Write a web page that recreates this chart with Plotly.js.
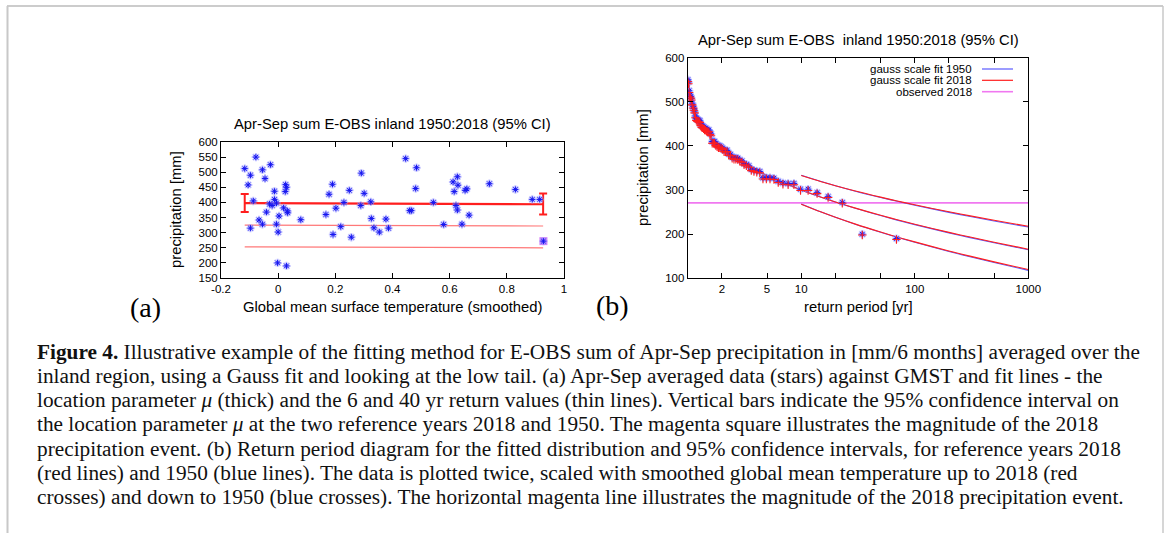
<!DOCTYPE html>
<html>
<head>
<meta charset="utf-8">
<script src="https://cdn.plot.ly/plotly-3.0.1.min.js"></script>
<style>html,body{margin:0;padding:0;background:#fff;}#chart{width:1167px;height:533px;}</style>
</head>
<body>
<div id="chart"></div>
<script>
// ---------- Panel (a): data vs GMST ----------
const gmst = [-0.117,-0.078,-0.097,-0.055,-0.027,-0.046,-0.105,-0.087,-0.013,-0.013,-0.030,-0.021,-0.006,-0.041,-0.067,-0.055,-0.097,-0.006,0.003,0.000,-0.002,0.029,0.026,0.029,0.025,0.019,0.032,0.033,0.079,0.167,0.178,0.190,0.192,0.202,0.219,0.230,0.249,0.256,0.289,0.291,0.301,0.324,0.326,0.335,0.354,0.377,0.386,0.446,0.460,0.466,0.484,0.481,0.543,0.579,0.612,0.616,0.627,0.629,0.622,0.627,0.643,0.654,0.660,0.668,0.739,0.830,0.889,0.915,0.928];
const precip = [512,550,490,508,525,479,458,405,437,410,395,390,398,368,342,328,315,328,355,302,200,190,459,450,436,382,372,366,343,360,427,460,294,381,320,400,440,285,390,497,430,402,347,316,302,345,315,545,373,373,515,446,400,327,468,436,485,457,390,375,328,440,445,358,462,443,410,410,272];
const fitGmst = [-0.117, 0.927];
const muFit = [398, 394];
const muErrPlus = [30, 36];
const muErrMinus = [30, 34];
const rv6 = [325, 322];
const rv40 = [253, 250];
const obs2018Gmst = [0.928];
const obs2018Val = [272];

// ---------- Panel (b): return period diagram ----------
const retPeriod = [1.000,1.015,1.030,1.045,1.062,1.078,1.095,1.113,1.131,1.150,1.169,1.190,1.211,1.232,1.255,1.278,1.302,1.327,1.353,1.380,1.408,1.438,1.468,1.500,1.533,1.568,1.605,1.643,1.683,1.725,1.769,1.816,1.865,1.917,1.971,2.029,2.091,2.156,2.226,2.300,2.379,2.464,2.556,2.654,2.760,2.875,3.000,3.136,3.286,3.450,3.632,3.833,4.059,4.313,4.600,4.929,5.308,5.750,6.273,6.900,7.667,8.625,9.857,11.50,13.80,17.25,23.00,34.50,69.00];
const scaled1950 = [550,545,525,515,512,508,497,490,485,479,468,462,460,459,458,457,450,446,445,443,440,440,437,436,436,430,427,410,410,410,405,402,400,400,398,395,390,390,390,382,381,375,373,373,372,368,366,360,358,355,347,345,343,342,328,328,328,327,320,316,315,315,302,302,294,285,272,200,190];
const scaled2018 = [546,541,521,511,508,504,493,486,481,475,464,458,456,455,454,453,446,442,441,439,436,436,433,432,432,426,423,406,406,406,401,398,396,396,395,392,387,387,387,379,378,372,370,370,369,365,363,357,355,352,344,342,340,339,325,325,325,324,317,313,312,312,299,299,292,283,270,198,188];
const fitT = [1.02,1.05,1.1,1.2,1.35,1.5,1.75,2,2.5,3,4,5,7,10,15,20,30,50,70,100,200,300,500,1000];
const fit1950 = [552,522,497,469.5,445.5,429.5,410.5,397,378,364.5,346,333.5,316.5,300.3,283.8,272.9,258.7,242.2,231.9,221.7,203,192.8,180.4,164.6];
const fit2018 = [547.8,518.6,493.9,466.7,442.8,426.9,408.3,395,376.2,363.1,345,332.6,315.9,300,283.8,273.1,259.1,242.8,232.7,222.6,204.1,194,181.7,166];
const ciT = [10,15,20,30,50,70,100,200,300,500,1000];
const ciHi1950 = [333.5,319.2,309.8,297.5,283.3,274.5,265.7,249.5,240.6,229.9,216.2];
const ciLo1950 = [268.5,250.3,238.3,222.5,204.3,192.9,181.6,160.8,149.4,135.7,118.0];
const ciHi2018 = [333.0,319.0,309.9,297.9,283.9,275.2,266.6,250.7,242.0,231.5,218.0];
const ciLo2018 = [268.0,250.1,238.3,222.8,204.8,193.6,182.5,162.0,150.8,137.3,119.9];
const obsLineT = [1, 1000];
const obsLineVal = [271, 271];

const xTicksA = [-0.2, 0, 0.2, 0.4, 0.6, 0.8, 1];
const xTickTextA = ['-0.2', '0', '0.2', '0.4', '0.6', '0.8', '1'];
const xTicksB = [2, 5, 10, 20, 50, 100, 200, 500, 1000];
const xTickTextB = ['2', '5', '10', '', '', '100', '', '', '1000'];
const legendLabels = ['gauss scale fit 1950', 'gauss scale fit 2018', 'observed 2018'];

const captionLines = [
  '<b>Figure 4.</b> Illustrative example of the fitting method for E-OBS sum of Apr-Sep precipitation in [mm/6 months] averaged over the',
  'inland region, using a Gauss fit and looking at the low tail. (a) Apr-Sep averaged data (stars) against GMST and fit lines - the',
  'location parameter <i>μ</i> (thick) and the 6 and 40 yr return values (thin lines). Vertical bars indicate the 95% confidence interval on',
  'the location parameter <i>μ</i> at the two reference years 2018 and 1950. The magenta square illustrates the magnitude of the 2018',
  'precipitation event. (b) Return period diagram for the fitted distribution and 95% confidence intervals, for reference years 2018',
  '(red lines) and 1950 (blue lines). The data is plotted twice, scaled with smoothed global mean temperature up to 2018 (red',
  'crosses) and down to 1950 (blue crosses). The horizontal magenta line illustrates the magnitude of the 2018 precipitation event.'
];

// ---------- styles ----------
const W = 1167, H = 533;
const px = v => v / W;
const py = v => 1 - v / H;
const SANS = 'Liberation Sans, Arial, sans-serif';
const SERIF = 'Liberation Serif, Times New Roman, serif';
const BLUE = 'rgb(20,20,240)';
const HALO = 'rgba(150,150,255,0.6)';
const RED = 'rgb(255,30,30)';
const LRED = 'rgb(255,120,120)';
const LBLUE = 'rgb(90,90,255)';
const MAG = 'rgb(240,120,240)';

function starMarker(color, size, width) {
  return {symbol: 'asterisk-open', size: size, color: color, line: {color: color, width: width}};
}

const traces = [
  // panel (a)
  {x: fitGmst, y: rv6, xaxis: 'x', yaxis: 'y', mode: 'lines', line: {color: LRED, width: 1.2}},
  {x: fitGmst, y: rv40, xaxis: 'x', yaxis: 'y', mode: 'lines', line: {color: LRED, width: 1.2}},
  {x: fitGmst, y: muFit, xaxis: 'x', yaxis: 'y', mode: 'lines', line: {color: RED, width: 2.2},
   error_y: {type: 'data', symmetric: false, array: muErrPlus, arrayminus: muErrMinus, color: RED, thickness: 2, width: 4}},
  {x: obs2018Gmst, y: obs2018Val, xaxis: 'x', yaxis: 'y', mode: 'markers',
   marker: {symbol: 'square', size: 8, color: 'rgb(215,130,250)', line: {width: 0}}},
  {x: gmst, y: precip, xaxis: 'x', yaxis: 'y', mode: 'markers', marker: starMarker(HALO, 7, 2)},
  {x: gmst, y: precip, xaxis: 'x', yaxis: 'y', mode: 'markers', marker: starMarker(BLUE, 5, 1)},
  // panel (b)
  {x: obsLineT, y: obsLineVal, xaxis: 'x2', yaxis: 'y2', mode: 'lines', line: {color: MAG, width: 1.6}},
  {x: fitT, y: fit1950, xaxis: 'x2', yaxis: 'y2', mode: 'lines', line: {color: LBLUE, width: 1.1, shape: 'spline'}},
  {x: fitT, y: fit2018, xaxis: 'x2', yaxis: 'y2', mode: 'lines', line: {color: RED, width: 1.1, shape: 'spline'}},
  {x: ciT, y: ciHi1950, xaxis: 'x2', yaxis: 'y2', mode: 'lines', line: {color: LBLUE, width: 1.1, shape: 'spline'}},
  {x: ciT, y: ciHi2018, xaxis: 'x2', yaxis: 'y2', mode: 'lines', line: {color: RED, width: 1.1, shape: 'spline'}},
  {x: ciT, y: ciLo1950, xaxis: 'x2', yaxis: 'y2', mode: 'lines', line: {color: LBLUE, width: 1.1, shape: 'spline'}},
  {x: ciT, y: ciLo2018, xaxis: 'x2', yaxis: 'y2', mode: 'lines', line: {color: RED, width: 1.1, shape: 'spline'}},
  {x: retPeriod, y: scaled1950, xaxis: 'x2', yaxis: 'y2', mode: 'markers', marker: starMarker(HALO, 7, 2)},
  {x: retPeriod, y: scaled1950, xaxis: 'x2', yaxis: 'y2', mode: 'markers', marker: starMarker(BLUE, 5, 1)},
  {x: retPeriod, y: scaled2018, xaxis: 'x2', yaxis: 'y2', mode: 'markers',
   marker: {symbol: 'cross-thin-open', size: 6, color: RED, line: {color: RED, width: 1.1}}}
];

const axisCommon = {
  showline: true, linecolor: '#000', linewidth: 1, mirror: 'ticks',
  ticks: 'inside', ticklen: 5, tickcolor: '#000', tickwidth: 1,
  showgrid: false, zeroline: false, fixedrange: true,
  tickfont: {family: SANS, size: 11.5, color: '#000'}
};

const annotations = [];
function addText(text, x, y, opts) {
  annotations.push(Object.assign({
    text: text, xref: 'paper', yref: 'paper', x: px(x), y: py(y),
    xanchor: 'center', yanchor: 'middle', showarrow: false,
    font: {family: SANS, size: 14.8, color: '#000'}
  }, opts || {}));
}
addText('Apr-Sep sum E-OBS inland 1950:2018 (95% CI)', 392, 124);
addText('Global mean surface temperature (smoothed)', 392, 307);
addText('precipitation [mm]', 176, 210, {textangle: -90});
addText('Apr-Sep sum E-OBS&nbsp; inland 1950:2018 (95% CI)', 858, 40);
addText('return period [yr]', 858, 307);
addText('precipitation [mm]', 643, 168, {textangle: -90});
addText('(a)', 145, 307, {font: {family: SERIF, size: 28, color: '#000'}});
addText('(b)', 612, 305, {font: {family: SERIF, size: 28, color: '#000'}});
const legendColors = [LBLUE, RED, MAG];
const legendY = [69, 80.3, 91.7];
const shapes = [];
legendLabels.forEach((t, i) => {
  addText(t, 974, legendY[i], {xanchor: 'right', font: {family: SANS, size: 11.5, color: '#000'}});
  shapes.push({type: 'line', xref: 'paper', yref: 'paper', x0: px(982), x1: px(1013), y0: py(legendY[i]), y1: py(legendY[i]),
    line: {color: legendColors[i], width: i === 2 ? 1.6 : 1.2}});
});
captionLines.forEach((t, i) => {
  addText(t, 35, 352 + i * 24.15, {xanchor: 'left', align: 'left', font: {family: SERIF, size: 21.3, color: '#111'}});
});
// page frame
shapes.push({type: 'line', xref: 'paper', yref: 'paper', x0: px(7), x1: px(1163), y0: py(6), y1: py(6), line: {color: '#999', width: 1}});
shapes.push({type: 'line', xref: 'paper', yref: 'paper', x0: px(7.5), x1: px(7.5), y0: py(6), y1: py(533), line: {color: '#c8c8c8', width: 2}});
shapes.push({type: 'line', xref: 'paper', yref: 'paper', x0: px(1163), x1: px(1163), y0: py(6), y1: py(533), line: {color: '#c8c8c8', width: 1.5}});

const layout = {
  width: W, height: H,
  margin: {l: 0, r: 0, t: 0, b: 0, pad: 0},
  paper_bgcolor: '#fff', plot_bgcolor: '#fff',
  showlegend: false,
  xaxis: Object.assign({}, axisCommon, {domain: [px(221), px(564)], range: [-0.2, 1], anchor: 'y',
    tickvals: xTicksA, ticktext: xTickTextA}),
  yaxis: Object.assign({}, axisCommon, {domain: [py(278), py(142)], range: [150, 600], anchor: 'x',
    tickmode: 'linear', tick0: 150, dtick: 50}),
  xaxis2: Object.assign({}, axisCommon, {type: 'log', domain: [px(687.7), px(1028.3)], range: [0, 3], anchor: 'y2',
    tickvals: xTicksB, ticktext: xTickTextB}),
  yaxis2: Object.assign({}, axisCommon, {domain: [py(278.3), py(57.7)], range: [100, 600], anchor: 'x2',
    tickmode: 'linear', tick0: 100, dtick: 100}),
  annotations: annotations,
  shapes: shapes
};

Plotly.newPlot('chart', traces, layout, {staticPlot: true, displayModeBar: false});
</script>
</body>
</html>
